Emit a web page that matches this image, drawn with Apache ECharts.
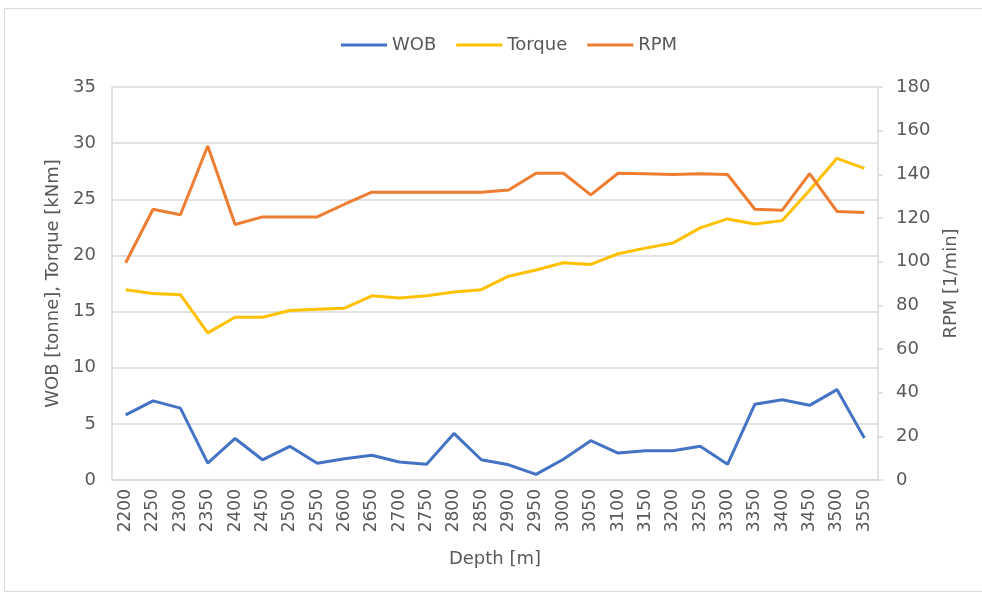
<!DOCTYPE html>
<html>
<head>
<meta charset="utf-8">
<script src="https://cdn.jsdelivr.net/npm/echarts@6/dist/echarts.min.js"></script>
<style>
    html, body {margin: 0; padding: 0; background: #fff;}
    #frame {position: absolute; left: 4px; top: 8px; width: 990px; height: 584px; border: 1px solid #d9d9d9; box-sizing: border-box;}
    #chart {position: absolute; left: 0; top: 0; width: 982px; height: 597px;}
</style>
</head>
<body>
<div id="frame"></div>
<div id="chart"></div>
<script>
const depths = [2200, 2250, 2300, 2350, 2400, 2450, 2500, 2550, 2600, 2650, 2700, 2750, 2800, 2850,
    2900, 2950, 3000, 3050, 3100, 3150, 3200, 3250, 3300, 3350, 3400, 3450, 3500, 3550]

const wob = [5.8, 7.05, 6.4, 1.5, 3.7, 1.8, 3.0, 1.5, 1.9, 2.2, 1.6, 1.4, 4.15, 1.8,
    1.35, 0.5, 1.85, 3.5, 2.4, 2.6, 2.6, 3.0, 1.4, 6.75, 7.15, 6.65, 8.05, 3.75]

const torque = [16.95, 16.6, 16.5, 13.1, 14.5, 14.5, 15.1, 15.2, 15.3, 16.4, 16.2, 16.4, 16.75, 16.95,
    18.15, 18.7, 19.35, 19.2, 20.15, 20.65, 21.1, 22.45, 23.25, 22.8, 23.1, 25.8, 28.65, 27.75]

const rpm = [99.5, 124, 121.5, 153, 117, 120.5, 120.5, 120.5, 126.3, 131.8, 131.8, 131.8, 131.8, 131.8,
    132.8, 140.5, 140.5, 130.6, 140.5, 140.3, 139.9, 140.3, 139.9, 124, 123.6, 140.3, 123, 122.5]

const font = "'DejaVu Sans', sans-serif"
const textColor = '#595959'
const gridColor = '#d9d9d9'

let chart = echarts.init(document.getElementById('chart'))

let option = {
    textStyle: {fontFamily: font},
    animation: false,
    legend: {
        top: 31,
        left: 336,
        itemWidth: 46,
        itemHeight: 3,
        itemGap: 20,
        icon: 'rect',
        textStyle: {color: textColor, fontSize: 18, fontFamily: font},
        data: ['WOB', 'Torque', 'RPM']
    },
    grid: {left: 112, right: 104, top: 87, bottom: 117},
    xAxis: {
        type: 'category',
        data: depths,
        boundaryGap: true,
        name: 'Depth [m]',
        nameLocation: 'middle',
        nameGap: 70,
        nameTextStyle: {color: textColor, fontSize: 18, fontFamily: font},
        axisLine: {show: true, lineStyle: {color: gridColor, width: 1.5}},
        axisTick: {show: false},
        axisLabel: {color: textColor, fontSize: 17, rotate: 90, margin: 9, interval: 0, fontFamily: font}
    },
    yAxis: [
        {
            type: 'value',
            min: 0, max: 35, interval: 5,
            name: 'WOB [tonne], Torque [kNm]',
            nameLocation: 'middle',
            nameGap: 50,
            nameTextStyle: {color: textColor, fontSize: 18, fontFamily: font},
            axisLine: {show: true, lineStyle: {color: gridColor, width: 1.5}},
            axisTick: {show: false},
            splitLine: {show: true, lineStyle: {color: gridColor, width: 1.5}},
            axisLabel: {color: textColor, fontSize: 18, margin: 16, fontFamily: font}
        },
        {
            type: 'value',
            position: 'right',
            min: 0, max: 180, interval: 20,
            name: 'RPM [1/min]',
            nameLocation: 'middle',
            nameGap: 64,
            nameRotate: 90,
            nameTextStyle: {color: textColor, fontSize: 18, fontFamily: font},
            axisLine: {show: true, lineStyle: {color: gridColor, width: 1.5}},
            axisTick: {show: true, length: 5, lineStyle: {color: gridColor, width: 1.5}},
            splitLine: {show: false},
            axisLabel: {color: textColor, fontSize: 18, margin: 18, fontFamily: font}
        }
    ],
    series: [
        {
            name: 'WOB', type: 'line', data: wob, yAxisIndex: 0,
            symbol: 'none', lineStyle: {color: '#4472C4', width: 3}, itemStyle: {color: '#4472C4'}
        },
        {
            name: 'Torque', type: 'line', data: torque, yAxisIndex: 0,
            symbol: 'none', lineStyle: {color: '#FFC000', width: 3}, itemStyle: {color: '#FFC000'}
        },
        {
            name: 'RPM', type: 'line', data: rpm, yAxisIndex: 1,
            symbol: 'none', lineStyle: {color: '#ED7D31', width: 3}, itemStyle: {color: '#ED7D31'}
        }
    ]
}

chart.setOption(option)
</script>
</body>
</html>
